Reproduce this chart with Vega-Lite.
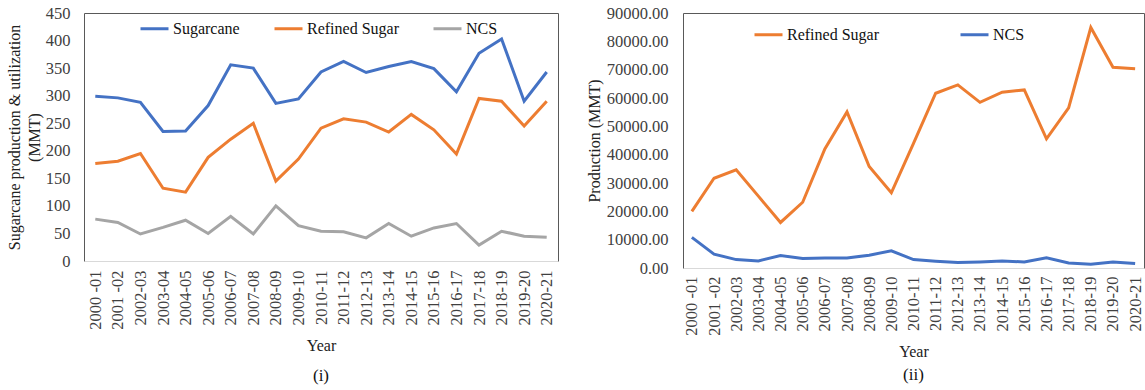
{
  "$schema": "https://vega.github.io/schema/vega-lite/v6.json",
  "background": "white",
  "padding": {"left": 5, "top": 4, "right": 0, "bottom": 0},
  "config": {
    "font": "Liberation Serif",
    "view": {"stroke": "#595959", "strokeWidth": 1},
    "axis": {
      "labelFont": "Liberation Serif",
      "labelFontSize": 16.5,
      "labelColor": "#404040",
      "titleFont": "Liberation Serif",
      "titleFontSize": 16,
      "titleFontWeight": "normal",
      "titleColor": "#222222",
      "grid": false,
      "ticks": false
    },
    "legend": {
      "labelFont": "Liberation Serif",
      "labelFontSize": 16,
      "labelColor": "#111111",
      "symbolType": "stroke",
      "symbolStrokeWidth": 3,
      "symbolSize": 784,
      "labelOffset": 3,
      "padding": 0,
      "direction": "horizontal",
      "orient": "none",
      "title": null
    },
    "title": {"font": "Liberation Serif"},
    "concat": {"spacing": 26}
  },
  "datasets": {
    "utilization": [
      {"Year": "2000 -01", "Series": "Sugarcane", "MMT": 299},
      {"Year": "2001 -02", "Series": "Sugarcane", "MMT": 296},
      {"Year": "2002-03", "Series": "Sugarcane", "MMT": 288},
      {"Year": "2003-04", "Series": "Sugarcane", "MMT": 235},
      {"Year": "2004-05", "Series": "Sugarcane", "MMT": 236},
      {"Year": "2005-06", "Series": "Sugarcane", "MMT": 282},
      {"Year": "2006-07", "Series": "Sugarcane", "MMT": 356},
      {"Year": "2007-08", "Series": "Sugarcane", "MMT": 350},
      {"Year": "2008-09", "Series": "Sugarcane", "MMT": 286},
      {"Year": "2009-10", "Series": "Sugarcane", "MMT": 294},
      {"Year": "2010-11", "Series": "Sugarcane", "MMT": 343},
      {"Year": "2011-12", "Series": "Sugarcane", "MMT": 362},
      {"Year": "2012-13", "Series": "Sugarcane", "MMT": 342},
      {"Year": "2013-14", "Series": "Sugarcane", "MMT": 353},
      {"Year": "2014-15", "Series": "Sugarcane", "MMT": 362},
      {"Year": "2015-16", "Series": "Sugarcane", "MMT": 349},
      {"Year": "2016-17", "Series": "Sugarcane", "MMT": 307},
      {"Year": "2017-18", "Series": "Sugarcane", "MMT": 377},
      {"Year": "2018-19", "Series": "Sugarcane", "MMT": 403},
      {"Year": "2019-20", "Series": "Sugarcane", "MMT": 290},
      {"Year": "2020-21", "Series": "Sugarcane", "MMT": 343},
      {"Year": "2000 -01", "Series": "Refined Sugar", "MMT": 177},
      {"Year": "2001 -02", "Series": "Refined Sugar", "MMT": 181},
      {"Year": "2002-03", "Series": "Refined Sugar", "MMT": 195},
      {"Year": "2003-04", "Series": "Refined Sugar", "MMT": 132},
      {"Year": "2004-05", "Series": "Refined Sugar", "MMT": 125},
      {"Year": "2005-06", "Series": "Refined Sugar", "MMT": 188},
      {"Year": "2006-07", "Series": "Refined Sugar", "MMT": 221},
      {"Year": "2007-08", "Series": "Refined Sugar", "MMT": 250},
      {"Year": "2008-09", "Series": "Refined Sugar", "MMT": 145},
      {"Year": "2009-10", "Series": "Refined Sugar", "MMT": 185},
      {"Year": "2010-11", "Series": "Refined Sugar", "MMT": 241},
      {"Year": "2011-12", "Series": "Refined Sugar", "MMT": 258},
      {"Year": "2012-13", "Series": "Refined Sugar", "MMT": 252},
      {"Year": "2013-14", "Series": "Refined Sugar", "MMT": 234},
      {"Year": "2014-15", "Series": "Refined Sugar", "MMT": 266},
      {"Year": "2015-16", "Series": "Refined Sugar", "MMT": 238},
      {"Year": "2016-17", "Series": "Refined Sugar", "MMT": 194},
      {"Year": "2017-18", "Series": "Refined Sugar", "MMT": 295},
      {"Year": "2018-19", "Series": "Refined Sugar", "MMT": 290},
      {"Year": "2019-20", "Series": "Refined Sugar", "MMT": 245},
      {"Year": "2020-21", "Series": "Refined Sugar", "MMT": 290},
      {"Year": "2000 -01", "Series": "NCS", "MMT": 76},
      {"Year": "2001 -02", "Series": "NCS", "MMT": 70},
      {"Year": "2002-03", "Series": "NCS", "MMT": 49},
      {"Year": "2003-04", "Series": "NCS", "MMT": 61},
      {"Year": "2004-05", "Series": "NCS", "MMT": 74},
      {"Year": "2005-06", "Series": "NCS", "MMT": 50},
      {"Year": "2006-07", "Series": "NCS", "MMT": 81},
      {"Year": "2007-08", "Series": "NCS", "MMT": 49},
      {"Year": "2008-09", "Series": "NCS", "MMT": 100},
      {"Year": "2009-10", "Series": "NCS", "MMT": 64},
      {"Year": "2010-11", "Series": "NCS", "MMT": 54},
      {"Year": "2011-12", "Series": "NCS", "MMT": 53},
      {"Year": "2012-13", "Series": "NCS", "MMT": 42},
      {"Year": "2013-14", "Series": "NCS", "MMT": 68},
      {"Year": "2014-15", "Series": "NCS", "MMT": 45},
      {"Year": "2015-16", "Series": "NCS", "MMT": 60},
      {"Year": "2016-17", "Series": "NCS", "MMT": 68},
      {"Year": "2017-18", "Series": "NCS", "MMT": 29},
      {"Year": "2018-19", "Series": "NCS", "MMT": 54},
      {"Year": "2019-20", "Series": "NCS", "MMT": 45},
      {"Year": "2020-21", "Series": "NCS", "MMT": 43}
    ],
    "production": [
      {"Year": "2000 -01", "Series": "Refined Sugar", "MMT": 20000},
      {"Year": "2001 -02", "Series": "Refined Sugar", "MMT": 31680},
      {"Year": "2002-03", "Series": "Refined Sugar", "MMT": 34640},
      {"Year": "2003-04", "Series": "Refined Sugar", "MMT": 25360},
      {"Year": "2004-05", "Series": "Refined Sugar", "MMT": 16070},
      {"Year": "2005-06", "Series": "Refined Sugar", "MMT": 23210},
      {"Year": "2006-07", "Series": "Refined Sugar", "MMT": 42040},
      {"Year": "2007-08", "Series": "Refined Sugar", "MMT": 55110},
      {"Year": "2008-09", "Series": "Refined Sugar", "MMT": 35830},
      {"Year": "2009-10", "Series": "Refined Sugar", "MMT": 26540},
      {"Year": "2010-11", "Series": "Refined Sugar", "MMT": 44000},
      {"Year": "2011-12", "Series": "Refined Sugar", "MMT": 61680},
      {"Year": "2012-13", "Series": "Refined Sugar", "MMT": 64640},
      {"Year": "2013-14", "Series": "Refined Sugar", "MMT": 58460},
      {"Year": "2014-15", "Series": "Refined Sugar", "MMT": 62030},
      {"Year": "2015-16", "Series": "Refined Sugar", "MMT": 62860},
      {"Year": "2016-17", "Series": "Refined Sugar", "MMT": 45600},
      {"Year": "2017-18", "Series": "Refined Sugar", "MMT": 56540},
      {"Year": "2018-19", "Series": "Refined Sugar", "MMT": 84890},
      {"Year": "2019-20", "Series": "Refined Sugar", "MMT": 70820},
      {"Year": "2020-21", "Series": "Refined Sugar", "MMT": 70360},
      {"Year": "2000 -01", "Series": "NCS", "MMT": 10820},
      {"Year": "2001 -02", "Series": "NCS", "MMT": 4890},
      {"Year": "2002-03", "Series": "NCS", "MMT": 2960},
      {"Year": "2003-04", "Series": "NCS", "MMT": 2500},
      {"Year": "2004-05", "Series": "NCS", "MMT": 4390},
      {"Year": "2005-06", "Series": "NCS", "MMT": 3320},
      {"Year": "2006-07", "Series": "NCS", "MMT": 3570},
      {"Year": "2007-08", "Series": "NCS", "MMT": 3570},
      {"Year": "2008-09", "Series": "NCS", "MMT": 4530},
      {"Year": "2009-10", "Series": "NCS", "MMT": 6070},
      {"Year": "2010-11", "Series": "NCS", "MMT": 2960},
      {"Year": "2011-12", "Series": "NCS", "MMT": 2380},
      {"Year": "2012-13", "Series": "NCS", "MMT": 1900},
      {"Year": "2013-14", "Series": "NCS", "MMT": 2140},
      {"Year": "2014-15", "Series": "NCS", "MMT": 2500},
      {"Year": "2015-16", "Series": "NCS", "MMT": 2140},
      {"Year": "2016-17", "Series": "NCS", "MMT": 3570},
      {"Year": "2017-18", "Series": "NCS", "MMT": 1790},
      {"Year": "2018-19", "Series": "NCS", "MMT": 1310},
      {"Year": "2019-20", "Series": "NCS", "MMT": 2140},
      {"Year": "2020-21", "Series": "NCS", "MMT": 1550}
    ]
  },
  "hconcat": [
    {
      "width": 474,
      "height": 248,
      "data": {"name": "utilization"},
      "title": {"text": "(i)", "orient": "bottom", "anchor": "middle", "frame": "group", "fontSize": 17, "fontWeight": "normal", "color": "#111111", "offset": 15},
      "mark": {"type": "line", "strokeWidth": 3},
      "encoding": {
        "x": {
          "field": "Year", "type": "ordinal", "sort": null,
          "scale": {"type": "point", "padding": 0.5},
          "axis": {"title": "Year", "labelAngle": -90, "labelPadding": 9, "titlePadding": 8, "domainColor": "#d9d9d9", "domainWidth": 1}
        },
        "y": {
          "field": "MMT", "type": "quantitative",
          "scale": {"domain": [0, 450], "nice": false},
          "axis": {"title": ["Sugarcane production & utilization", "(MMT)"], "values": [0, 50, 100, 150, 200, 250, 300, 350, 400, 450], "domain": false, "labelPadding": 14, "titlePadding": 3, "titleLineHeight": 20}
        },
        "color": {
          "field": "Series", "type": "nominal",
          "scale": {"domain": ["Sugarcane", "Refined Sugar", "NCS"], "range": ["#4472C4", "#ED7D31", "#A5A5A5"]},
          "legend": {"legendX": 55, "legendY": 0, "columnPadding": 28}
        }
      }
    },
    {
      "width": 461,
      "height": 255,
      "data": {"name": "production"},
      "title": {"text": "(ii)", "orient": "bottom", "anchor": "middle", "frame": "group", "fontSize": 17, "fontWeight": "normal", "color": "#111111", "offset": 8},
      "mark": {"type": "line", "strokeWidth": 3},
      "encoding": {
        "x": {
          "field": "Year", "type": "ordinal", "sort": null,
          "scale": {"type": "point", "padding": 0.4},
          "axis": {"title": "Year", "labelAngle": -90, "labelPadding": 8, "titlePadding": 8, "domainColor": "#d9d9d9", "domainWidth": 1}
        },
        "y": {
          "field": "MMT", "type": "quantitative",
          "scale": {"domain": [0, 90000], "nice": false},
          "axis": {"title": "Production (MMT)", "format": ".2f", "values": [0, 10000, 20000, 30000, 40000, 50000, 60000, 70000, 80000, 90000], "domain": false, "labelPadding": 15, "titlePadding": 4}
        },
        "color": {
          "field": "Series", "type": "nominal",
          "scale": {"domain": ["Refined Sugar", "NCS"], "range": ["#ED7D31", "#4472C4"]},
          "legend": {"legendX": 70, "legendY": 6, "columnPadding": 75}
        }
      }
    }
  ],
  "resolve": {
    "scale": {"color": "independent", "x": "independent", "y": "independent"},
    "legend": {"color": "independent"}
  }
}
